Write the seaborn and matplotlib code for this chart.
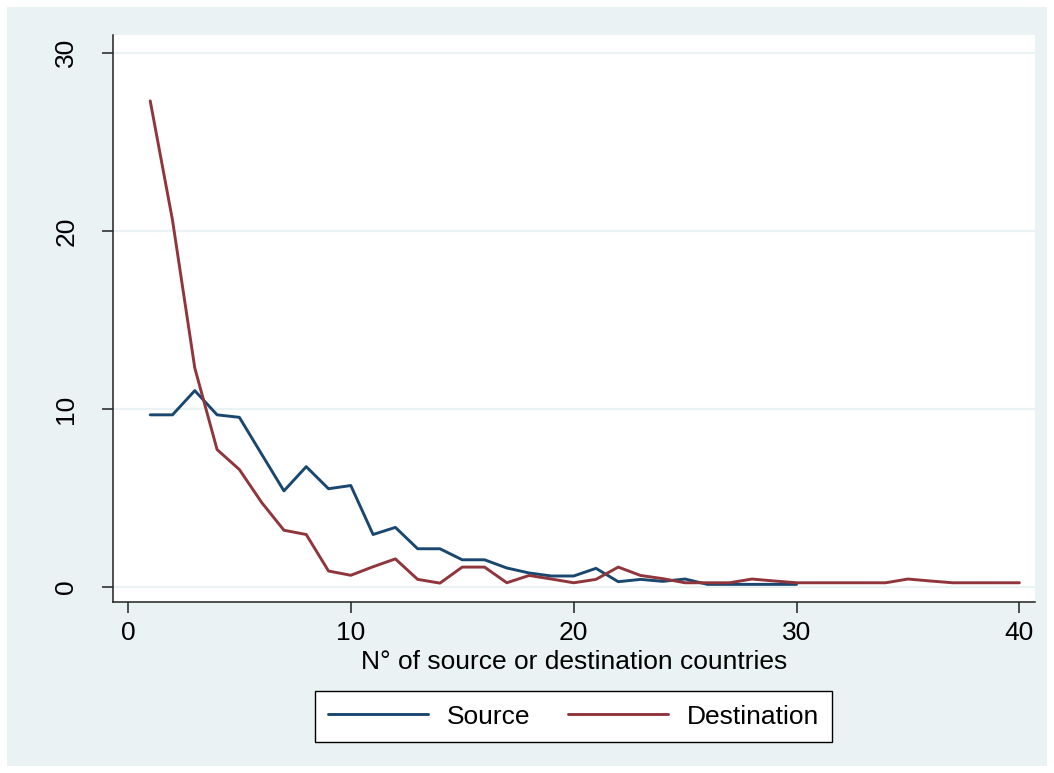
# ======================================
# Source / destination countries line chart
# ======================================

import seaborn as sns
import matplotlib.pyplot as plt
import pandas as pd
from matplotlib.patches import Rectangle

# ======================================
# DATA
# ======================================

source_countries = list(range(1, 31))
source_share = [
    9.67, 9.67, 11.03, 9.67, 9.53, 7.46, 5.40, 6.76, 5.52, 5.70,
    2.95, 3.35, 2.15, 2.15, 1.53, 1.53, 1.07, 0.79, 0.62, 0.62,
    1.05, 0.30, 0.43, 0.32, 0.45, 0.15, 0.15, 0.15, 0.15, 0.15
]

destination_countries = list(range(1, 41))
destination_share = [
    27.3, 20.6, 12.3, 7.72, 6.6, 4.75, 3.19, 2.95, 0.90, 0.66,
    1.14, 1.58, 0.43, 0.22, 1.12, 1.12, 0.24, 0.65, 0.45, 0.24,
    0.43, 1.12, 0.65, 0.47, 0.24, 0.24, 0.24, 0.45, 0.34, 0.24,
    0.24, 0.24, 0.24, 0.24, 0.45, 0.34, 0.24, 0.24, 0.24, 0.24
]

series_names = ["Source", "Destination"]
series_colors = ["#1A476F", "#90353B"]

x_ticks = [0, 10, 20, 30, 40]
y_ticks = [0, 10, 20, 30]

df = pd.concat([
    pd.DataFrame({"countries": source_countries,
                  "share": source_share,
                  "series": series_names[0]}),
    pd.DataFrame({"countries": destination_countries,
                  "share": destination_share,
                  "series": series_names[1]}),
])

# ======================================
# FIGURE
# ======================================

sns.set_theme(style="white")
plt.rcParams["font.family"] = ["Liberation Sans", "DejaVu Sans"]

bg = "#EAF2F3"

fig = plt.figure(figsize=(10.54, 7.73), dpi=100)
fig.patch.set_facecolor("white")
fig.add_artist(
    Rectangle((7 / 1054, 7 / 773), 1040 / 1054, 759 / 773,
              transform=fig.transFigure, facecolor=bg,
              edgecolor="none", zorder=-10)
)

ax = fig.add_axes([113 / 1054, 1 - 602 / 773, 922 / 1054, 567 / 773])
ax.set_zorder(1)
ax.set_facecolor("white")

for yv in y_ticks:
    ax.axhline(yv, color=bg, linewidth=1.6, zorder=1)

sns.lineplot(
    data=df,
    x="countries",
    y="share",
    hue="series",
    hue_order=series_names,
    palette=series_colors,
    linewidth=2.1,
    legend=False,
    ax=ax,
    zorder=3
)

ax.set_xlim(-0.67, 40.7)
ax.set_ylim(-0.84, 31.0)
ax.set_xticks(x_ticks)
ax.set_yticks(y_ticks)

for side in ["top", "right"]:
    ax.spines[side].set_visible(False)
for side in ["left", "bottom"]:
    ax.spines[side].set_color("#222222")
    ax.spines[side].set_linewidth(1.1)

ax.tick_params(axis="both", direction="out", length=8, width=1.1,
               bottom=True, left=True,
               color="#222222", labelsize=19, labelcolor="black")
ax.tick_params(axis="x", pad=6)
ax.tick_params(axis="y", pad=17, labelrotation=90)
for lab in ax.get_yticklabels():
    lab.set_va("center")

ax.set_ylabel("")
ax.set_xlabel("N° of source or destination countries", fontsize=19,
              color="black")
ax.xaxis.set_label_coords(0.5, -0.106)
ax.xaxis.label.set_va("center")

handles = [plt.Line2D([], [], color=c, linewidth=2.1) for c in series_colors]
leg = ax.legend(
    handles, series_names,
    loc="center",
    bbox_to_anchor=(573.5 / 1054, 1 - 716.5 / 773),
    bbox_transform=fig.transFigure,
    ncol=2,
    fontsize=19,
    labelcolor="black",
    frameon=True,
    fancybox=False,
    facecolor="white",
    framealpha=1.0,
    edgecolor="black",
    handlelength=3.8,
    handletextpad=0.72,
    columnspacing=1.4,
    borderpad=0.5,
)
leg.get_frame().set_linewidth(1.0)

plt.savefig("out.png", dpi=100, facecolor=fig.get_facecolor())
plt.close()
